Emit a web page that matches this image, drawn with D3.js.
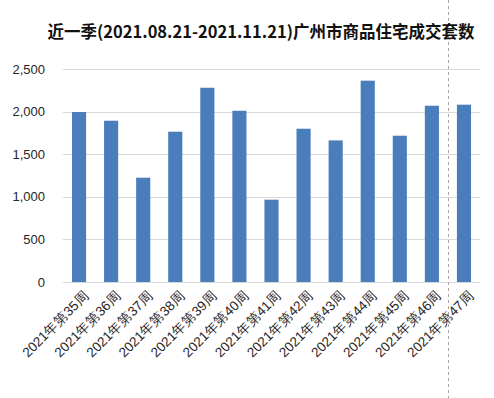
<!DOCTYPE html>
<html>
<head>
<meta charset="utf-8">
<script src="https://cdn.jsdelivr.net/npm/d3@7"></script>
<style>
  body { margin: 0; background: #fff; }
  svg { display: block; font-family: "Microsoft YaHei", "Noto Sans CJK SC", sans-serif; }
</style>
</head>
<body>
<div id="chart"></div>
<script>
var weeks = ["2021年第35周", "2021年第36周", "2021年第37周", "2021年第38周", "2021年第39周",
             "2021年第40周", "2021年第41周", "2021年第42周", "2021年第43周", "2021年第44周",
             "2021年第45周", "2021年第46周", "2021年第47周"];
var deals = [1995, 1893, 1224, 1764, 2280, 2010, 966, 1799, 1662, 2363, 1717, 2069, 2081];
var yTicks = [0, 500, 1000, 1500, 2000, 2500];
var title = "近一季(2021.08.21-2021.11.21)广州市商品住宅成交套数";

var width = 494, height = 398;
var margin = {top: 69, right: 14, bottom: 116, left: 63};

var svg = d3.select("#chart").append("svg")
  .attr("width", width)
  .attr("height", height);

var x = d3.scaleBand()
  .domain(weeks)
  .range([margin.left, width - margin.right])
  .paddingInner(0.56)
  .paddingOuter(0.28);

var y = d3.scaleLinear()
  .domain([0, 2500])
  .range([height - margin.bottom, margin.top]);

// gridlines
svg.append("g")
  .selectAll("line")
  .data(yTicks)
  .join("line")
    .attr("x1", margin.left)
    .attr("x2", width - margin.right)
    .attr("y1", function(d) { return Math.round(y(d)) + 0.5; })
    .attr("y2", function(d) { return Math.round(y(d)) + 0.5; })
    .attr("stroke", "#d9d9d9")
    .attr("stroke-width", 1);

// y labels
var yAxis = svg.append("g")
  .attr("transform", "translate(" + (margin.left - 15) + ",0)")
  .call(d3.axisLeft(y).tickValues(yTicks).tickSize(0).tickFormat(d3.format(",")));
yAxis.select(".domain").remove();
yAxis.selectAll("text")
  .attr("font-size", 13)
  .attr("fill", "#262626")
  .style("font-family", "Arial, 'Liberation Sans', sans-serif");

// bars
svg.append("g")
  .selectAll("rect")
  .data(deals)
  .join("rect")
    .attr("x", function(d, i) { return x(weeks[i]); })
    .attr("width", x.bandwidth())
    .attr("y", function(d) { return y(d); })
    .attr("height", function(d) { return y(0) - y(d); })
    .attr("fill", "#4a7dbc");

// x labels
var xAxis = svg.append("g")
  .attr("transform", "translate(0," + y(0) + ")")
  .call(d3.axisBottom(x).tickSize(0));
xAxis.select(".domain").remove();
xAxis.selectAll("text")
  .attr("font-size", 13.5)
  .attr("fill", "#262626")
  .attr("text-anchor", "end")
  .attr("dy", "0.35em")
  .attr("transform", "translate(5,9) rotate(-45)");

// dashed divider
svg.append("line")
  .attr("x1", 448.5).attr("x2", 448.5)
  .attr("y1", 0).attr("y2", height)
  .attr("stroke", "#b0a0a0")
  .attr("stroke-width", 1)
  .attr("stroke-dasharray", "3,3");

// title
svg.append("text")
  .attr("x", 261)
  .attr("y", 38)
  .attr("text-anchor", "middle")
  .attr("font-size", 16.5)
  .attr("font-weight", "bold")
  .attr("fill", "#111")
  .text(title);
</script>
</body>
</html>
